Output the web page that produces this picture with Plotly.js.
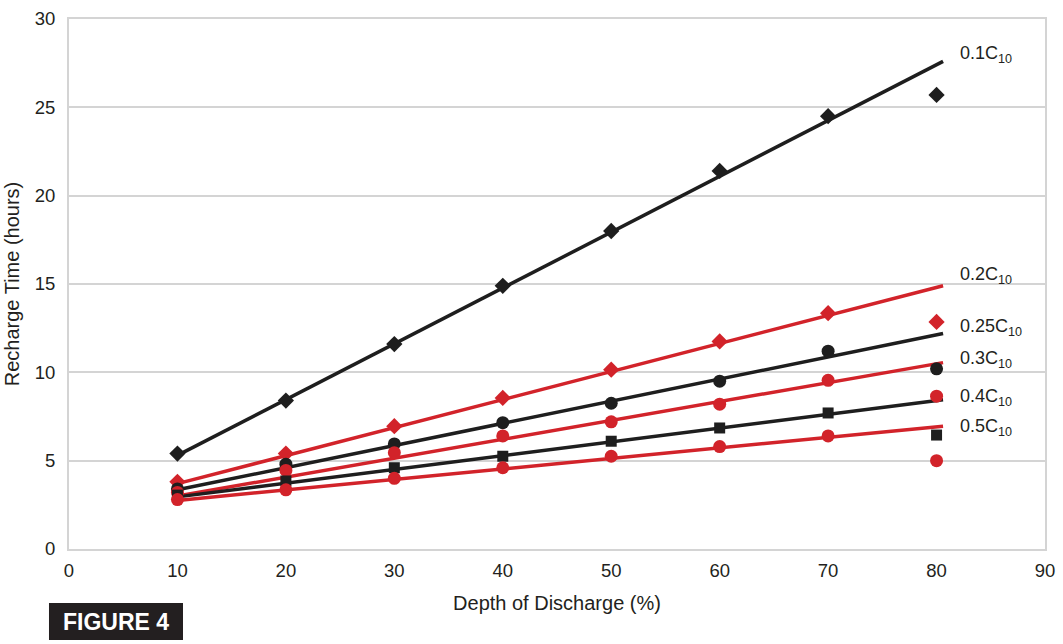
<!DOCTYPE html>
<html>
<head>
<meta charset="utf-8">
<script src="https://cdn.plot.ly/plotly-3.0.1.min.js"></script>
<style>html,body{margin:0;padding:0;background:#fff;}#chart{width:1063px;height:644px;}</style>
</head>
<body>
<div id="chart"></div>
<script>
// Depth of discharge (%)
const depth = [10, 20, 30, 40, 50, 60, 70, 80];
// Measured recharge time (hours) per charge rate
const c01  = [5.4, 8.4, 11.6, 14.9, 18.0, 21.4, 24.5, 25.7];
const c02  = [3.8, 5.4, 6.95, 8.55, 10.15, 11.75, 13.35, 12.85];
const c025 = [3.4, 4.8, 5.95, 7.15, 8.25, 9.5, 11.2, 10.2];
const c03  = [3.2, 4.45, 5.45, 6.4, 7.2, 8.2, 9.55, 8.65];
const c04  = [3.05, 3.85, 4.6, 5.25, 6.1, 6.85, 7.7, 6.45];
const c05  = [2.8, 3.35, 4.0, 4.6, 5.25, 5.8, 6.4, 5.0];
// Trend line end points (x = start, end)
const trendX = [10, 80.6];
const t01  = [5.3, 27.6];
const t02  = [3.7, 14.9];
const t025 = [3.35, 12.2];
const t03  = [3.0, 10.55];
const t04  = [2.95, 8.45];
const t05  = [2.75, 6.95];
// Series labels
const labels = ['0.1C<sub>10</sub>', '0.2C<sub>10</sub>', '0.25C<sub>10</sub>', '0.3C<sub>10</sub>', '0.4C<sub>10</sub>', '0.5C<sub>10</sub>'];
const labelY = [28.0, 15.5, 12.55, 10.7, 8.55, 6.9];
const xTicks = [0, 10, 20, 30, 40, 50, 60, 70, 80, 90];
const yTicks = [0, 5, 10, 15, 20, 25, 30];

const RED = '#d2232a';
const BLACK = '#1e1e1e';

const series = [
  {y: c01, t: t01, color: BLACK, symbol: 'diamond', size: 12.5},
  {y: c02, t: t02, color: RED, symbol: 'diamond', size: 12.5},
  {y: c025, t: t025, color: BLACK, symbol: 'circle', size: 13},
  {y: c03, t: t03, color: RED, symbol: 'circle', size: 13},
  {y: c04, t: t04, color: BLACK, symbol: 'square', size: 11},
  {y: c05, t: t05, color: RED, symbol: 'circle', size: 13}
];

const traces = [];
series.forEach(s => {
  traces.push({x: trendX, y: s.t, type: 'scatter', mode: 'lines',
    line: {color: s.color, width: 3.5}, hoverinfo: 'skip', showlegend: false});
});
series.forEach(s => {
  traces.push({x: depth, y: s.y, type: 'scatter', mode: 'markers',
    marker: {color: s.color, symbol: s.symbol, size: s.size, line: {width: 0}}, showlegend: false});
});

const FONT = 'Liberation Sans, Arial, sans-serif';
const annotations = labels.map((txt, i) => ({
  x: 81.95, y: labelY[i], xref: 'x', yref: 'y', text: txt, showarrow: false,
  xanchor: 'left', yanchor: 'middle', font: {family: FONT, size: 18, color: '#231f20'}
}));
annotations.push({
  x: 0.0482, y: -0.137, xref: 'paper', yref: 'paper', text: '<b>FIGURE 4</b>',
  showarrow: false, xanchor: 'center', yanchor: 'middle',
  font: {family: FONT, size: 23, color: '#ffffff'}
});

const layout = {
  width: 1063, height: 644,
  margin: {l: 69, r: 18, t: 19, b: 95},
  paper_bgcolor: '#ffffff', plot_bgcolor: '#ffffff',
  font: {family: FONT, size: 18, color: '#231f20'},
  showlegend: false,
  xaxis: {
    range: [0, 90], tickvals: xTicks, ticktext: xTicks.map(String),
    showgrid: false, zeroline: false, showline: true, mirror: true,
    linecolor: '#d4d4d4', linewidth: 2, ticks: '', ticklen: 0,
    ticklabelstandoff: 4,
    tickfont: {family: FONT, size: 18.5, color: '#231f20'},
    title: {text: 'Depth of Discharge (%)', font: {family: FONT, size: 20, color: '#231f20'}, standoff: 16}
  },
  yaxis: {
    range: [0, 30], tickvals: yTicks, ticktext: yTicks.map(String),
    showgrid: true, gridcolor: '#d4d4d4', gridwidth: 2, zeroline: false,
    showline: true, mirror: true, linecolor: '#d4d4d4', linewidth: 2,
    ticks: '', ticklabelstandoff: 8,
    tickfont: {family: FONT, size: 18.5, color: '#231f20'},
    title: {text: 'Recharge Time (hours)', font: {family: FONT, size: 20, color: '#231f20'}, standoff: 10}
  },
  shapes: [{
    type: 'rect', xref: 'paper', yref: 'paper',
    x0: -0.0205, x1: 0.1168, y0: -0.1717, y1: -0.1019,
    fillcolor: '#231f20', line: {width: 0}, layer: 'above'
  }],
  annotations: annotations
};

Plotly.newPlot('chart', traces, layout, {displayModeBar: false, staticPlot: true});
</script>
</body>
</html>
